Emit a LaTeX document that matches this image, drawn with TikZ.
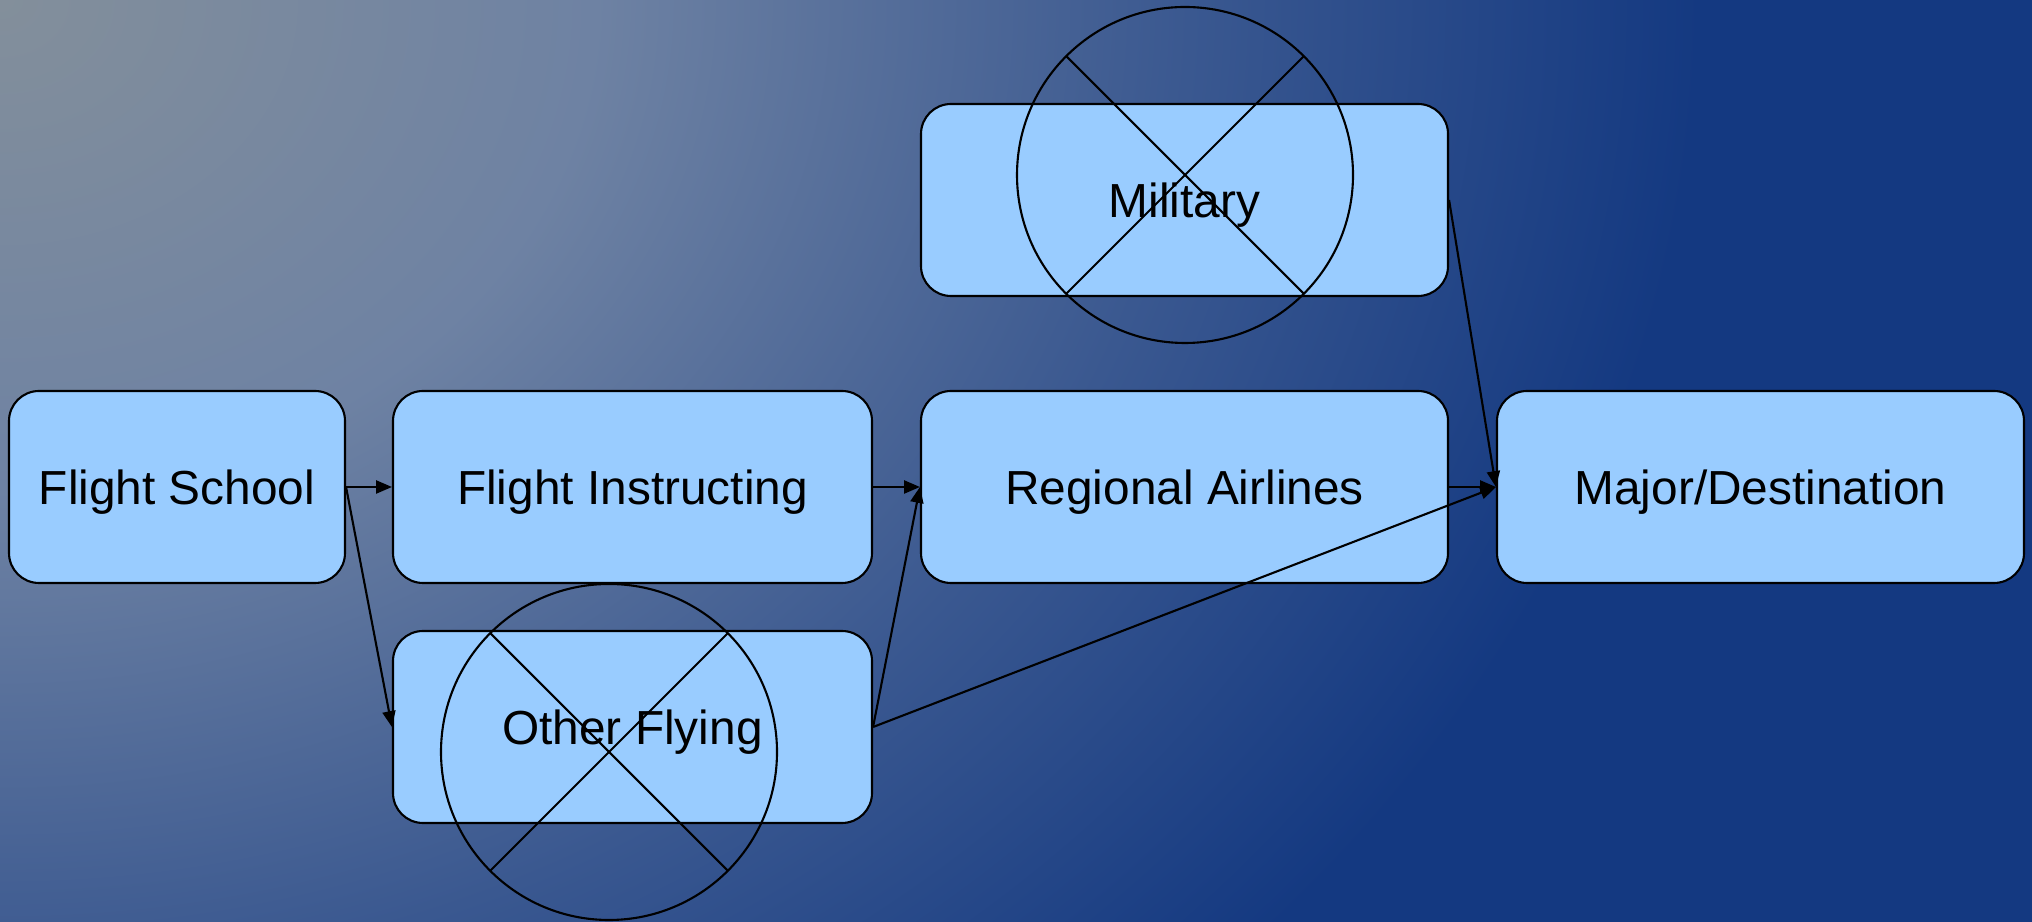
\documentclass[tikz,border=0pt]{standalone}
\usepackage{fontspec}
\setmainfont{Liberation Sans}
\usetikzlibrary{arrows.meta}
\definecolor{boxfill}{HTML}{99CCFF}
\definecolor{skyA}{HTML}{838F9B}
\definecolor{skyB}{HTML}{6E82A3}
\definecolor{skyC}{HTML}{3A5890}
\definecolor{skyD}{HTML}{143981}
% 25bp is the rim of the shaded path
\pgfdeclareradialshading{sky}{\pgfpoint{0bp}{0bp}}{color(0bp)=(skyA); color(8.75bp)=(skyB); color(17.5bp)=(skyC); color(25bp)=(skyD); color(50bp)=(skyD)}

\begin{document}
\begin{tikzpicture}[line width=0.6pt,
  stage/.style={draw,fill=boxfill,rounded corners=0.3cm,minimum height=1.92cm,inner sep=0pt,
    text height=9.8pt,text depth=0pt,font=\fontsize{13.6}{16}\selectfont},
  link/.style={-{Triangle[length=4.5pt,width=3.7pt]}}]
\useasboundingbox (0,0) rectangle (20.32,-9.22);
\fill[skyD] (0,0) rectangle (20.32,-9.22);
\begin{scope}
\clip (0,0) rectangle (20.32,-9.22);
\shade[shading=sky] (0,0) ellipse (17 and 14);
\end{scope}
\node[stage,minimum width=3.36cm] (school) at (1.77,-4.87) {Flight School};
\node[stage,minimum width=4.79cm] (instr) at (6.325,-4.87) {Flight Instructing};
\node[stage,minimum width=5.27cm] (regional) at (11.845,-4.87) {Regional Airlines};
\node[stage,minimum width=5.27cm] (major) at (17.605,-4.87) {Major/Destination};
\node[stage,minimum width=5.27cm] (military) at (11.845,-2.00) {Military};
\node[stage,minimum width=4.79cm] (other) at (6.325,-7.27) {Other Flying};
% crossed-out paths
\coordinate (milX) at (11.85,-1.75);
\coordinate (othX) at (6.09,-7.52);
\foreach \c in {milX,othX}{
  \draw (\c) circle (1.68);
  \draw ([shift={(135:1.68)}]\c) -- ([shift={(-45:1.68)}]\c);
  \draw ([shift={(45:1.68)}]\c) -- ([shift={(-135:1.68)}]\c);
}
\draw[link] (school.east) -- (instr.west);
\draw[link] (school.east) -- (other.west);
\draw[link] (instr.east) -- (regional.west);
\draw[link] (other.east) -- (regional.west);
\draw[link] (other.east) -- (major.west);
\draw[link] (regional.east) -- (major.west);
\draw[link] (military.east) -- (major.west);
\end{tikzpicture}
\end{document}
